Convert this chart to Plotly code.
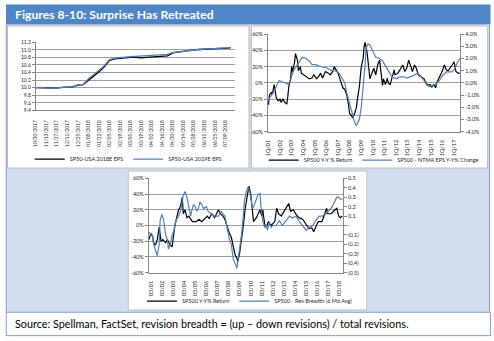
import plotly.graph_objects as go

W, H = 494, 341


def px(x):
    return x / W


def py(y):
    return 1 - y / H


# ---------------- Chart 1: consensus EPS (index) ----------------
eps_dates = [
    "2017-10-30", "2017-11-06", "2017-11-13", "2017-11-20", "2017-11-27", "2017-12-04",
    "2017-12-11", "2017-12-18", "2017-12-25", "2018-01-01", "2018-01-08", "2018-01-15",
    "2018-01-22", "2018-01-29", "2018-02-05", "2018-02-12", "2018-02-19", "2018-02-26",
    "2018-03-05", "2018-03-12", "2018-03-19", "2018-03-26", "2018-04-02", "2018-04-09",
    "2018-04-16", "2018-04-23", "2018-04-30", "2018-05-07", "2018-05-14", "2018-05-21",
    "2018-05-28", "2018-06-04", "2018-06-11", "2018-06-18", "2018-06-25", "2018-07-02",
    "2018-07-09", "2018-07-16",
]
eps_2018 = [
    10.00, 10.00, 9.98, 9.98, 9.99, 10.01, 10.01, 10.02, 10.07, 10.08, 10.20, 10.30,
    10.42, 10.55, 10.72, 10.76, 10.78, 10.79, 10.80, 10.80, 10.79, 10.80, 10.81, 10.81,
    10.82, 10.84, 10.92, 10.94, 10.96, 10.99, 11.00, 11.01, 11.02, 11.03, 11.04, 11.04,
    11.04, 11.06,
]
eps_2019 = [
    10.00, 10.01, 9.99, 9.98, 9.99, 10.01, 10.02, 10.02, 10.08, 10.09, 10.24, 10.34,
    10.46, 10.58, 10.74, 10.78, 10.80, 10.81, 10.82, 10.83, 10.83, 10.84, 10.86, 10.86,
    10.87, 10.88, 10.93, 10.95, 10.97, 10.99, 11.00, 11.01, 11.02, 11.03, 11.04, 11.04,
    11.05, 11.06,
]
eps_tick_dates = [
    "2017-10-30", "2017-11-13", "2017-11-27", "2017-12-11", "2017-12-25", "2018-01-08",
    "2018-01-22", "2018-02-05", "2018-02-19", "2018-03-05", "2018-03-19", "2018-04-02",
    "2018-04-16", "2018-04-30", "2018-05-14", "2018-05-28", "2018-06-11", "2018-06-25",
    "2018-07-09",
]
eps_tick_text = [
    "10/30/2017", "11/13/2017", "11/27/2017", "12/11/2017", "12/25/2017", "01/08/2018",
    "01/22/2018", "02/05/2018", "02/19/2018", "03/05/2018", "03/19/2018", "04/02/2018",
    "04/16/2018", "04/30/2018", "05/14/2018", "05/28/2018", "06/11/2018", "06/25/2018",
    "07/09/2018",
]

# ---------------- Chart 2: returns vs NTM EPS change ----------------
ret2_dates = [
    "2001-01", "2001-02", "2001-04", "2001-05", "2001-07", "2001-08", "2001-09", "2001-11",
    "2002-01", "2002-02", "2002-04", "2002-06", "2002-08", "2002-09", "2002-10", "2002-12",
    "2003-01", "2003-02", "2003-04", "2003-05", "2003-07", "2003-08", "2003-10", "2003-11",
    "2004-02", "2004-04", "2004-07", "2004-10", "2004-12", "2005-03", "2005-05", "2005-07",
    "2005-09", "2005-12", "2006-03", "2006-05", "2006-08", "2006-09", "2006-11", "2007-01",
    "2007-03", "2007-05", "2007-06", "2007-08", "2007-10", "2007-12", "2008-01", "2008-03",
    "2008-04", "2008-06", "2008-08", "2008-09", "2008-11", "2009-01", "2009-03", "2009-04",
    "2009-05", "2009-07", "2009-09", "2009-10", "2009-12", "2010-02", "2010-04", "2010-06",
    "2010-08", "2010-09", "2010-11", "2010-12", "2011-02", "2011-04", "2011-05", "2011-07",
    "2011-09", "2011-11", "2011-12", "2012-03", "2012-06", "2012-08", "2012-10", "2012-12",
    "2013-02", "2013-04", "2013-06", "2013-08", "2013-10", "2013-12", "2014-03", "2014-06",
    "2014-08", "2014-10", "2014-12", "2015-02", "2015-04", "2015-06", "2015-07", "2015-09",
    "2015-11", "2016-01", "2016-03", "2016-05", "2016-07", "2016-09", "2016-11", "2017-01",
    "2017-03", "2017-05", "2017-07",
]
ret2_vals = [
    -27, -15, -12, -14, -2, -10, -18, -22,
    -20, -24, -20, -24, -26, -17, -5, 5,
    20, 14, 25, 36, 28, 15, 20, 12,
    10, 8, 5, 6, 10, 5, 8, 12,
    6, 14, 12, 10, 15, 20, 16, 12,
    5, -2, -6, -8, -15, -28, -38, -40,
    -43, -38, -30, -20, -5, 20, 30, 45,
    50, 38, 18, 5, 12, 18, 10, 22,
    28, 18, -3, 5, -2, 6, 0, -2,
    8, 16, 10, 12, 18, 22, 14, 18,
    28, 20, 14, 22, 18, 10, 8, 5,
    0, -3, -2, -5, -2, -6, 0, 5,
    10, 15, 22, 16, 15, 18, 22, 26,
    14, 12, 12,
]
ntm2_dates = [
    "2001-01", "2001-03", "2001-06", "2001-09", "2001-12", "2002-03", "2002-07", "2002-10",
    "2002-12", "2003-03", "2003-07", "2003-10", "2003-12", "2004-04", "2004-07", "2004-10",
    "2005-02", "2005-05", "2005-09", "2006-02", "2006-06", "2006-10", "2007-02", "2007-05",
    "2007-08", "2007-10", "2008-01", "2008-04", "2008-06", "2008-08", "2008-11", "2009-01",
    "2009-03", "2009-05", "2009-06", "2009-08", "2009-10", "2010-01", "2010-04", "2010-08",
    "2010-11", "2011-02", "2011-05", "2011-08", "2011-11", "2012-02", "2012-06", "2012-09",
    "2012-12", "2013-04", "2013-07", "2013-11", "2014-02", "2014-06", "2014-09", "2014-12",
    "2015-03", "2015-06", "2015-10", "2016-01", "2016-05", "2016-08", "2016-11", "2017-02",
    "2017-04", "2017-07",
]
ntm2_vals = [
    -1.4, -1.2, -0.8, -0.3, 0.2, 0.1, 0.0, -0.1,
    0.3, 1.0, 1.5, 1.9, 2.1, 2.0, 1.8, 1.5,
    1.5, 1.4, 1.3, 1.2, 1.0, 1.0, 0.8, 0.4,
    0.0, -0.8, -1.8, -2.6, -3.2, -3.5, -3.0, -2.0,
    -0.5, 1.5, 2.8, 3.2, 3.1, 2.6, 2.1, 2.0,
    1.8, 1.4, 1.0, 0.6, 0.4, 0.4, 0.5, 0.5,
    0.4, 0.5, 0.6, 0.8, 0.6, 0.2, -0.2, -0.3,
    -0.2, -0.1, 0.2, 0.6, 0.9, 0.9, 0.9, 1.2,
    1.6, 2.0,
]
q_tick_dates = ["%d-01-01" % y for y in range(2001, 2018)]
q_tick_text = ["1Q/%02d" % (y % 100) for y in range(2001, 2018)]

# ---------------- Chart 3: returns vs revision breadth ----------------
ret3_dates = [
    "2001-01", "2001-03", "2001-05", "2001-06", "2001-08", "2001-10", "2001-12", "2002-02",
    "2002-04", "2002-07", "2002-09", "2002-12", "2003-02", "2003-04", "2003-05", "2003-07",
    "2003-09", "2003-11", "2004-01", "2004-02", "2004-04", "2004-06", "2004-08", "2004-10",
    "2004-12", "2005-04", "2005-07", "2005-10", "2006-02", "2006-04", "2006-06", "2006-09",
    "2006-12", "2007-04", "2007-06", "2007-09", "2007-11", "2008-01", "2008-03", "2008-04",
    "2008-06", "2008-08", "2008-10", "2008-12", "2009-01", "2009-03", "2009-05", "2009-07",
    "2009-09", "2009-10", "2010-01", "2010-03", "2010-05", "2010-06", "2010-09", "2010-11",
    "2011-01", "2011-03", "2011-04", "2011-06", "2011-08", "2011-10", "2012-01", "2012-05",
    "2012-07", "2012-09", "2012-12", "2013-03", "2013-05", "2013-08", "2013-10", "2014-01",
    "2014-04", "2014-07", "2014-11", "2015-02", "2015-06", "2015-09", "2015-11", "2016-02",
    "2016-04", "2016-08", "2016-11", "2017-01", "2017-02", "2017-06", "2017-10", "2017-12",
    "2018-02", "2018-04", "2018-06",
]
ret3_vals = [
    -18, -10, -14, -22, -25, -18, -2, -20,
    -18, -22, -18, -25, -27, -10, 0, 10,
    20, 24, 36, 15, 20, 10, 12, 8,
    5, 5, 8, 5, 10, 12, 9, 15,
    10, 20, 15, 12, 8, 0, -8, -10,
    -15, -25, -37, -42, -46, -35, -20, 0,
    22, 30, 50, 40, 20, 5, 10, 15,
    20, 12, 20, 2, -2, 5, 0, 5,
    22, 15, 12, 18, 22, 28, 18, 20,
    14, 10, 8, 2, -4, -3, -8, 0,
    5, 5, 14, 22, 15, 15, 20, 22,
    12, 10, 12,
]
brd3_dates = [
    "2001-01", "2001-03", "2001-05", "2001-06", "2001-08", "2001-10", "2001-12", "2002-01",
    "2002-03", "2002-05", "2002-07", "2002-09", "2002-10", "2002-12", "2003-02", "2003-04",
    "2003-06", "2003-09", "2003-11", "2004-01", "2004-02", "2004-04", "2004-06", "2004-08",
    "2004-10", "2004-11", "2005-01", "2005-03", "2005-05", "2005-07", "2005-08", "2005-10",
    "2005-12", "2006-03", "2006-05", "2006-09", "2006-12", "2007-04", "2007-07", "2007-09",
    "2007-11", "2008-01", "2008-03", "2008-04", "2008-06", "2008-08", "2008-10", "2008-12",
    "2009-01", "2009-03", "2009-05", "2009-07", "2009-08", "2009-10", "2009-12", "2010-02",
    "2010-04", "2010-05", "2010-07", "2010-09", "2010-11", "2011-01", "2011-02", "2011-04",
    "2011-06", "2011-08", "2011-09", "2011-11", "2012-01", "2012-03", "2012-06", "2012-10",
    "2013-01", "2013-05", "2013-09", "2013-12", "2014-04", "2014-07", "2014-11", "2015-03",
    "2015-06", "2015-10", "2016-01", "2016-05", "2016-08", "2016-12", "2017-03", "2017-07",
    "2017-11", "2017-12", "2018-02", "2018-04", "2018-06",
]
brd3_vals = [
    -0.07, -0.10, -0.12, -0.20, -0.25, -0.32, -0.20, 0.05,
    0.12, 0.05, -0.10, -0.15, -0.25, -0.20, -0.10, -0.05,
    0.05, 0.10, 0.15, 0.25, 0.32, 0.36, 0.30, 0.20,
    0.10, 0.15, 0.22, 0.20, 0.15, 0.20, 0.25, 0.22,
    0.18, 0.20, 0.15, 0.12, 0.10, 0.10, 0.15, 0.12,
    0.10, 0.00, -0.10, -0.15, -0.20, -0.35, -0.40, -0.45,
    -0.38, -0.25, -0.10, 0.10, 0.25, 0.35, 0.41, 0.35,
    0.22, 0.18, 0.22, 0.28, 0.33, 0.34, 0.20, 0.05,
    -0.02, 0.00, -0.05, 0.03, -0.02, 0.00, 0.00, 0.05,
    0.00, 0.05, 0.10, 0.08, 0.10, 0.05, 0.00, -0.05,
    -0.02, 0.00, 0.05, 0.10, 0.10, 0.12, 0.15, 0.20,
    0.28, 0.30, 0.30, 0.28, 0.28,
]
m_tick_dates = ["%d-03-01" % y for y in range(2001, 2019)]
m_tick_text = ["03/%02d" % (y % 100) for y in range(2001, 2019)]

pct_vals = [-60, -40, -20, 0, 20, 40, 60]
pct_text = ["-60%", "-40%", "-20%", "0%", "20%", "40%", "60%"]
ntm_vals = [-4, -3, -2, -1, 0, 1, 2, 3, 4]
ntm_text = ["-4.0%", "-3.0%", "-2.0%", "-1.0%", "0.0%", "1.0%", "2.0%", "3.0%", "4.0%"]
brd_vals = [-0.5, -0.4, -0.3, -0.2, -0.1, 0, 0.1, 0.2, 0.3, 0.4, 0.5]
brd_text = ["(0.5)", "(0.4)", "(0.3)", "(0.2)", "(0.1)", "-", "0.1", "0.2", "0.3", "0.4", "0.5"]

BLACK = "#000000"
BLUE = "#4F81BD"
GRID = "#A0A0A0"
AXIS = "#868686"
TXT = "#262626"
FONT = "Lato"

fig = go.Figure()
fig.add_trace(go.Scatter(x=eps_dates, y=eps_2018, mode="lines", name="SP50-USA 2018E EPS",
                         line=dict(color=BLACK, width=1.3), xaxis="x", yaxis="y", legend="legend"))
fig.add_trace(go.Scatter(x=eps_dates, y=eps_2019, mode="lines", name="SP50-USA 2019E EPS",
                         line=dict(color=BLUE, width=1.3), xaxis="x", yaxis="y", legend="legend"))
fig.add_trace(go.Scatter(x=ret2_dates, y=ret2_vals, mode="lines", name="SP500 Y-Y % Return",
                         line=dict(color=BLACK, width=1.2), xaxis="x2", yaxis="y2", legend="legend2"))
fig.add_trace(go.Scatter(x=ntm2_dates, y=ntm2_vals, mode="lines", name="SP500 - NTMA EPS Y-Y% Change",
                         line=dict(color=BLUE, width=1.2), xaxis="x2", yaxis="y3", legend="legend2"))
fig.add_trace(go.Scatter(x=ret3_dates, y=ret3_vals, mode="lines", name="SP500 Y-Y% Return",
                         line=dict(color=BLACK, width=1.2), xaxis="x3", yaxis="y4", legend="legend3"))
fig.add_trace(go.Scatter(x=brd3_dates, y=brd3_vals, mode="lines", name="SP500 - Rev Breadth (6 Mo Avg)",
                         line=dict(color=BLUE, width=1.2), xaxis="x3", yaxis="y5", legend="legend3"))

xcommon = dict(type="date", showgrid=False, showline=True, linecolor=AXIS, linewidth=1,
               tickangle=-90, ticks="", zeroline=False, tickfont=dict(family=FONT, size=5.5, color=TXT))
ycommon = dict(showgrid=True, gridcolor=GRID, gridwidth=1.3, showline=True, linecolor=AXIS,
               linewidth=1, ticks="outside", ticklen=3, tickcolor=AXIS, zeroline=False,
               tickfont=dict(family=FONT, size=5.5, color=TXT))

legcommon = dict(orientation="h", xanchor="center", yanchor="middle", bgcolor="rgba(0,0,0,0)",
                 font=dict(family=FONT, size=5.5, color=TXT), itemwidth=30)

shapes = []


def rect(x0, y0, x1, y1, fill, line_color=None, lw=1):
    shapes.append(dict(type="rect", xref="paper", yref="paper", x0=px(x0), x1=px(x1),
                       y0=py(y1), y1=py(y0), fillcolor=fill, layer="below",
                       line=dict(color=line_color or fill, width=lw if line_color else 0)))


def hline(x0, x1, y, color, lw=1):
    shapes.append(dict(type="line", xref="paper", yref="paper", x0=px(x0), x1=px(x1),
                       y0=py(y), y1=py(y), layer="below", line=dict(color=color, width=lw)))


def vline(x, y0, y1, color, lw=1):
    shapes.append(dict(type="line", xref="paper", yref="paper", x0=px(x), x1=px(x),
                       y0=py(y0), y1=py(y1), layer="below", line=dict(color=color, width=lw)))


PANEL = "#D3DFEE"
FRAME = "#7F9FD3"
rect(3, 22, 489.5, 314.5, PANEL)
rect(3, 1.5, 490.5, 22, "#4F86C8")
rect(4.5, 23.5, 247.5, 168, "#FFFFFF", "#BFBFBF")
rect(250, 23.5, 487.5, 168, "#FFFFFF", "#BFBFBF")
rect(126, 171, 366, 312.5, "#FFFFFF", "#BFBFBF")
rect(3, 315, 490.5, 338.5, "#FFFFFF")
vline(3.3, 22, 339, FRAME)
vline(489.5, 22, 315, FRAME)
vline(490.5, 315, 339, FRAME)
hline(3, 490.5, 314.8, FRAME)
hline(3, 490.5, 338.6, FRAME)

fig.update_layout(
    width=W, height=H, margin=dict(l=0, r=0, t=0, b=0),
    paper_bgcolor="#FFFFFF", plot_bgcolor="rgba(0,0,0,0)",
    shapes=shapes,
    xaxis=dict(xcommon, domain=[px(33), px(233)], anchor="y",
               range=["2017-10-30", "2018-07-21"], tickvals=eps_tick_dates, ticktext=eps_tick_text,
               tickfont=dict(family=FONT, size=4.8, color=TXT), ticklabelstandoff=7),
    yaxis=dict(ycommon, domain=[py(109.3), py(40)], anchor="x", range=[9.4, 11.2],
               dtick=0.2, tick0=9.4, tickformat=".1f", tickfont=dict(family=FONT, size=5, color=TXT)),
    xaxis2=dict(xcommon, domain=[px(266.7), px(460)], anchor="y2",
                range=["2000-12-20", "2017-07-13"], tickvals=q_tick_dates, ticktext=q_tick_text,
                ticklabelstandoff=5),
    yaxis2=dict(ycommon, domain=[py(131), py(31.7)], anchor="x2", range=[-60, 60],
                tickvals=pct_vals, ticktext=pct_text),
    yaxis3=dict(ycommon, overlaying="y2", side="right", anchor="x2", range=[-4, 4],
                tickvals=ntm_vals, ticktext=ntm_text, showgrid=False),
    xaxis3=dict(xcommon, domain=[px(146.7), px(342)], anchor="y4",
                range=["2000-12-25", "2018-06-20"], tickvals=m_tick_dates, ticktext=m_tick_text,
                ticklabelstandoff=5),
    yaxis4=dict(ycommon, domain=[py(274.5), py(178.5)], anchor="x3", range=[-60, 60],
                tickvals=pct_vals, ticktext=pct_text),
    yaxis5=dict(ycommon, overlaying="y4", side="right", anchor="x3", range=[-0.5, 0.5],
                tickvals=brd_vals, ticktext=brd_text, showgrid=False),
    legend=dict(legcommon, x=px(126), y=py(159)),
    legend2=dict(legcommon, x=px(373), y=py(160)),
    legend3=dict(legcommon, x=px(248.5), y=py(303.5)),
    annotations=[
        dict(text="<b>Figures 8-10: Surprise Has Retreated</b>", xref="paper", yref="paper",
             x=px(10), y=py(12), xanchor="left", yanchor="middle", showarrow=False,
             font=dict(family=FONT, size=12.2, color="#FFFFFF")),
        dict(text="Source: Spellman, FactSet, revision breadth = (up \u2013 down revisions) / total revisions.",
             xref="paper", yref="paper", x=px(10), y=py(326.5), xanchor="left", yanchor="middle",
             showarrow=False, font=dict(family=FONT, size=10.8, color="#000000")),
    ],
)

fig.write_html("out.html")
